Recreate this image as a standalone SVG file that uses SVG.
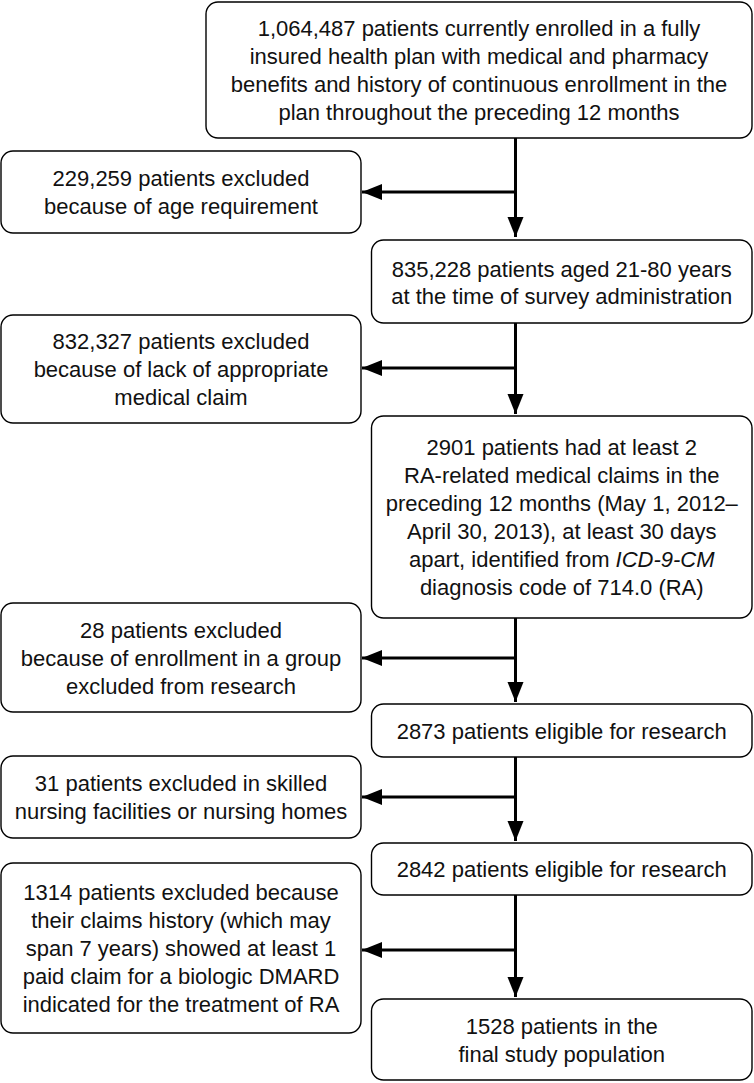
<svg xmlns="http://www.w3.org/2000/svg" width="754" height="1083" viewBox="0 0 754 1083">
<defs>
<style>
.box{fill:#fff;stroke:#000;stroke-width:1.4}
.t{font-family:"Liberation Sans Narrow","Arial Narrow","Liberation Sans",sans-serif;font-size:22px;fill:#111;text-anchor:middle}
.c{stroke:#000;stroke-width:3;fill:none}
</style>
<marker id="ah" markerUnits="userSpaceOnUse" markerWidth="22" markerHeight="18" refX="20" refY="8" orient="auto">
<path d="M0,0 L20,8 L0,16 Z" fill="#000"/>
</marker>
</defs>
<rect width="754" height="1083" fill="#fff"/>
<g id="connectors">
<path class="c" d="M515.5,138 V237" marker-end="url(#ah)"/>
<path class="c" d="M515.5,192 H362" marker-end="url(#ah)"/>
<path class="c" d="M515.5,323 V414" marker-end="url(#ah)"/>
<path class="c" d="M515.5,368 H362" marker-end="url(#ah)"/>
<path class="c" d="M515.5,618 V702" marker-end="url(#ah)"/>
<path class="c" d="M515.5,658 H362" marker-end="url(#ah)"/>
<path class="c" d="M515.5,757 V841" marker-end="url(#ah)"/>
<path class="c" d="M515.5,797 H362" marker-end="url(#ah)"/>
<path class="c" d="M515.5,895 V997" marker-end="url(#ah)"/>
<path class="c" d="M515.5,950 H362" marker-end="url(#ah)"/>
</g>
<g id="n1">
<rect class="box" x="206" y="2" width="546" height="136" rx="12"/>
<text class="t"><tspan x="479" y="36">1,064,487 patients currently enrolled in a fully</tspan><tspan x="479" y="64">insured health plan with medical and pharmacy</tspan><tspan x="479" y="92">benefits and history of continuous enrollment in the</tspan><tspan x="479" y="120">plan throughout the preceding 12 months</tspan></text>
</g>
<g id="nA">
<rect class="box" x="1" y="151" width="360" height="82" rx="12"/>
<text class="t"><tspan x="181" y="186">229,259 patients excluded</tspan><tspan x="181" y="214">because of age requirement</tspan></text>
</g>
<g id="n2">
<rect class="box" x="371.5" y="240" width="380.5" height="83" rx="12"/>
<text class="t"><tspan x="561.75" y="277">835,228 patients aged 21-80 years</tspan><tspan x="561.75" y="304">at the time of survey administration</tspan></text>
</g>
<g id="nB">
<rect class="box" x="1" y="315" width="360" height="108" rx="12"/>
<text class="t"><tspan x="181" y="349">832,327 patients excluded</tspan><tspan x="181" y="377">because of lack of appropriate</tspan><tspan x="181" y="405">medical claim</tspan></text>
</g>
<g id="n3">
<rect class="box" x="371.5" y="416" width="380.5" height="202" rx="12"/>
<text class="t"><tspan x="561.75" y="455">2901 patients had at least 2</tspan><tspan x="561.75" y="483">RA-related medical claims in the</tspan><tspan x="561.75" y="511">preceding 12 months (May 1, 2012–</tspan><tspan x="561.75" y="539">April 30, 2013), at least 30 days</tspan><tspan x="561.75" y="567">apart, identified from <tspan font-style="italic">ICD-9-CM</tspan></tspan><tspan x="561.75" y="595">diagnosis code of 714.0 (RA)</tspan></text>
</g>
<g id="nC">
<rect class="box" x="1" y="603" width="360" height="109" rx="12"/>
<text class="t"><tspan x="181" y="637.5">28 patients excluded</tspan><tspan x="181" y="665.5">because of enrollment in a group</tspan><tspan x="181" y="693.5">excluded from research</tspan></text>
</g>
<g id="n4">
<rect class="box" x="371.5" y="704" width="380.5" height="53" rx="12"/>
<text class="t"><tspan x="561.75" y="738.5">2873 patients eligible for research</tspan></text>
</g>
<g id="nD">
<rect class="box" x="1" y="756" width="360" height="82" rx="12"/>
<text class="t"><tspan x="181" y="791">31 patients excluded in skilled</tspan><tspan x="181" y="819">nursing facilities or nursing homes</tspan></text>
</g>
<g id="n5">
<rect class="box" x="371.5" y="843" width="380.5" height="52" rx="12"/>
<text class="t"><tspan x="561.75" y="877">2842 patients eligible for research</tspan></text>
</g>
<g id="nE">
<rect class="box" x="1" y="863" width="360" height="170" rx="12"/>
<text class="t"><tspan x="181" y="900">1314 patients excluded because</tspan><tspan x="181" y="928">their claims history (which may</tspan><tspan x="181" y="956">span 7 years) showed at least 1</tspan><tspan x="181" y="984">paid claim for a biologic DMARD</tspan><tspan x="181" y="1012">indicated for the treatment of RA</tspan></text>
</g>
<g id="n6">
<rect class="box" x="371.5" y="999" width="380.5" height="81" rx="12"/>
<text class="t"><tspan x="561.75" y="1034">1528 patients in the</tspan><tspan x="561.75" y="1062">final study population</tspan></text>
</g>
</svg>
